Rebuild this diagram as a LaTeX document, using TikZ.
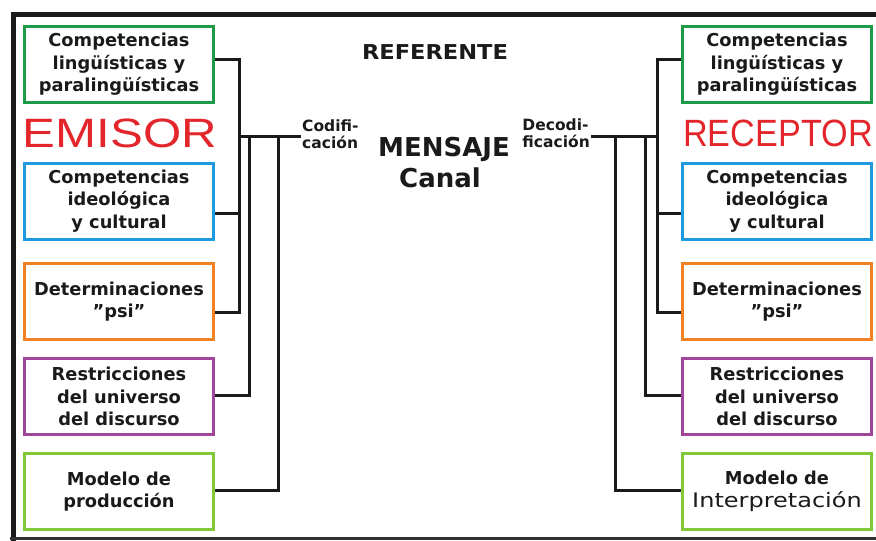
\documentclass[tikz,border=0pt]{standalone}
\usepackage{fontspec}
\usepackage{graphicx}
\setmainfont{DejaVu Sans}
\newfontfamily\arialf{Liberation Sans}
\definecolor{cgreen}{HTML}{1E9A48}
\definecolor{cblue}{HTML}{1E9BE0}
\definecolor{corange}{HTML}{F08224}
\definecolor{cpurple}{HTML}{A0459A}
\definecolor{clime}{HTML}{82C83A}
\definecolor{cred}{HTML}{E3262B}
\definecolor{cline}{HTML}{1A1A1A}
\begin{document}
\begin{tikzpicture}[x=1pt,y=-1pt,
  box/.style={draw=#1, line width=3pt, minimum width=189pt, minimum height=76pt,
    inner sep=0pt, align=center, text=cline,
    font=\bfseries\fontsize{17.8}{22.5}\selectfont},
  conn/.style={line width=3pt, line join=miter, draw=cline},
  small/.style={inner sep=1pt, text=cline, font=\bfseries\fontsize{15.5}{16.5}\selectfont},
  big/.style={text=cred, inner sep=0pt, font=\arialf\fontsize{41}{41}\selectfont},
  mid/.style={text=cline, inner sep=0pt, font=\bfseries\fontsize{26}{30}\selectfont}]
\useasboundingbox (0,0) rectangle (876,541);
% frame
\draw[line width=5pt, draw=cline] (876,14) -- (13,14) -- (13,541);
\draw[line width=3pt, draw=cline!90] (10,538.5) -- (876,538.5);
% left boxes
\node[box=cgreen]  (L1) at (119,64.5) {Competencias\\lingüísticas y\\paralingüísticas};
\node[box=cblue]   (L2) at (119,201) {Competencias\\ideológica\\y cultural};
\node[box=corange] (L3) at (119,301.5) {Determinaciones\\\char34 psi\char34};
\node[box=cpurple] (L4) at (119,396.5) {Restricciones\\del universo\\del discurso};
\node[box=clime]   (L5) at (119,491.5) {Modelo de\\producción};
% right boxes
\node[box=cgreen]  (R1) at (777,64.5) {Competencias\\lingüísticas y\\paralingüísticas};
\node[box=cblue]   (R2) at (777,201) {Competencias\\ideológica\\y cultural};
\node[box=corange] (R3) at (777,301.5) {Determinaciones\\\char34 psi\char34};
\node[box=cpurple] (R4) at (777,396.5) {Restricciones\\del universo\\del discurso};
\node[box=clime]   (R5) at (777,491.5) {Modelo de\\\scalebox{1.2}[1]{\mdseries\fontsize{20}{22.5}\selectfont Interpretación}};
% titles
\node[big, xscale=1.2] (emisor) at (120,133) {EMISOR};
\node[big, xscale=0.9, font=\arialf\fontsize{38}{38}\selectfont] (receptor) at (778,133.5) {RECEPTOR};
\node[text=cline, inner sep=0pt, xscale=1.1, font=\bfseries\fontsize{20.5}{24}\selectfont] (ref) at (435,52) {REFERENTE};
\node[mid] (mens) at (444,149) {MENSAJE};
\node[mid] (canal) at (440,178) {Canal};
\node[small, align=left, anchor=west] (cod) at (301,134) {Codifi-\\cación};
\node[small, align=left, anchor=east] (dec) at (591,133) {Decodi-\\ficación};
% attach points
\path ([yshift=5.5pt]L1.east) coordinate (l1)
      ([yshift=-12pt]L2.east) coordinate (l2)
      ([yshift=-10.5pt]L3.east) coordinate (l3)
      ([yshift=1.5pt]L4.east) coordinate (l4)
      ([yshift=1.5pt]L5.east) coordinate (l5);
\path ([yshift=5.5pt]R1.west) coordinate (r1)
      ([yshift=-12pt]R2.west) coordinate (r2)
      ([yshift=-10.5pt]R3.west) coordinate (r3)
      ([yshift=1pt]R4.west) coordinate (r4)
      ([yshift=1.5pt]R5.west) coordinate (r5);
\coordinate (ja) at (239,136);
\coordinate (jb) at (249,136);
\coordinate (jc) at (278,136);
\coordinate (ka) at (657,136);
\coordinate (kb) at (645,136);
\coordinate (kc) at (615,136);
% left connectors
\draw[conn] (l1) -| (ja) |- (l3);
\draw[conn] (l2) -- (l2 -| ja);
\draw[conn] (cod.west |- ja) -- (ja);
\draw[conn] (jb) |- (l4);
\draw[conn] (jc) |- (l5);
% right connectors
\draw[conn] (r1) -| (ka) |- (r3);
\draw[conn] (r2) -- (r2 -| ka);
\draw[conn] (dec.east |- ka) -- (ka);
\draw[conn] (kb) |- (r4);
\draw[conn] (kc) |- (r5);
\end{tikzpicture}
\end{document}
